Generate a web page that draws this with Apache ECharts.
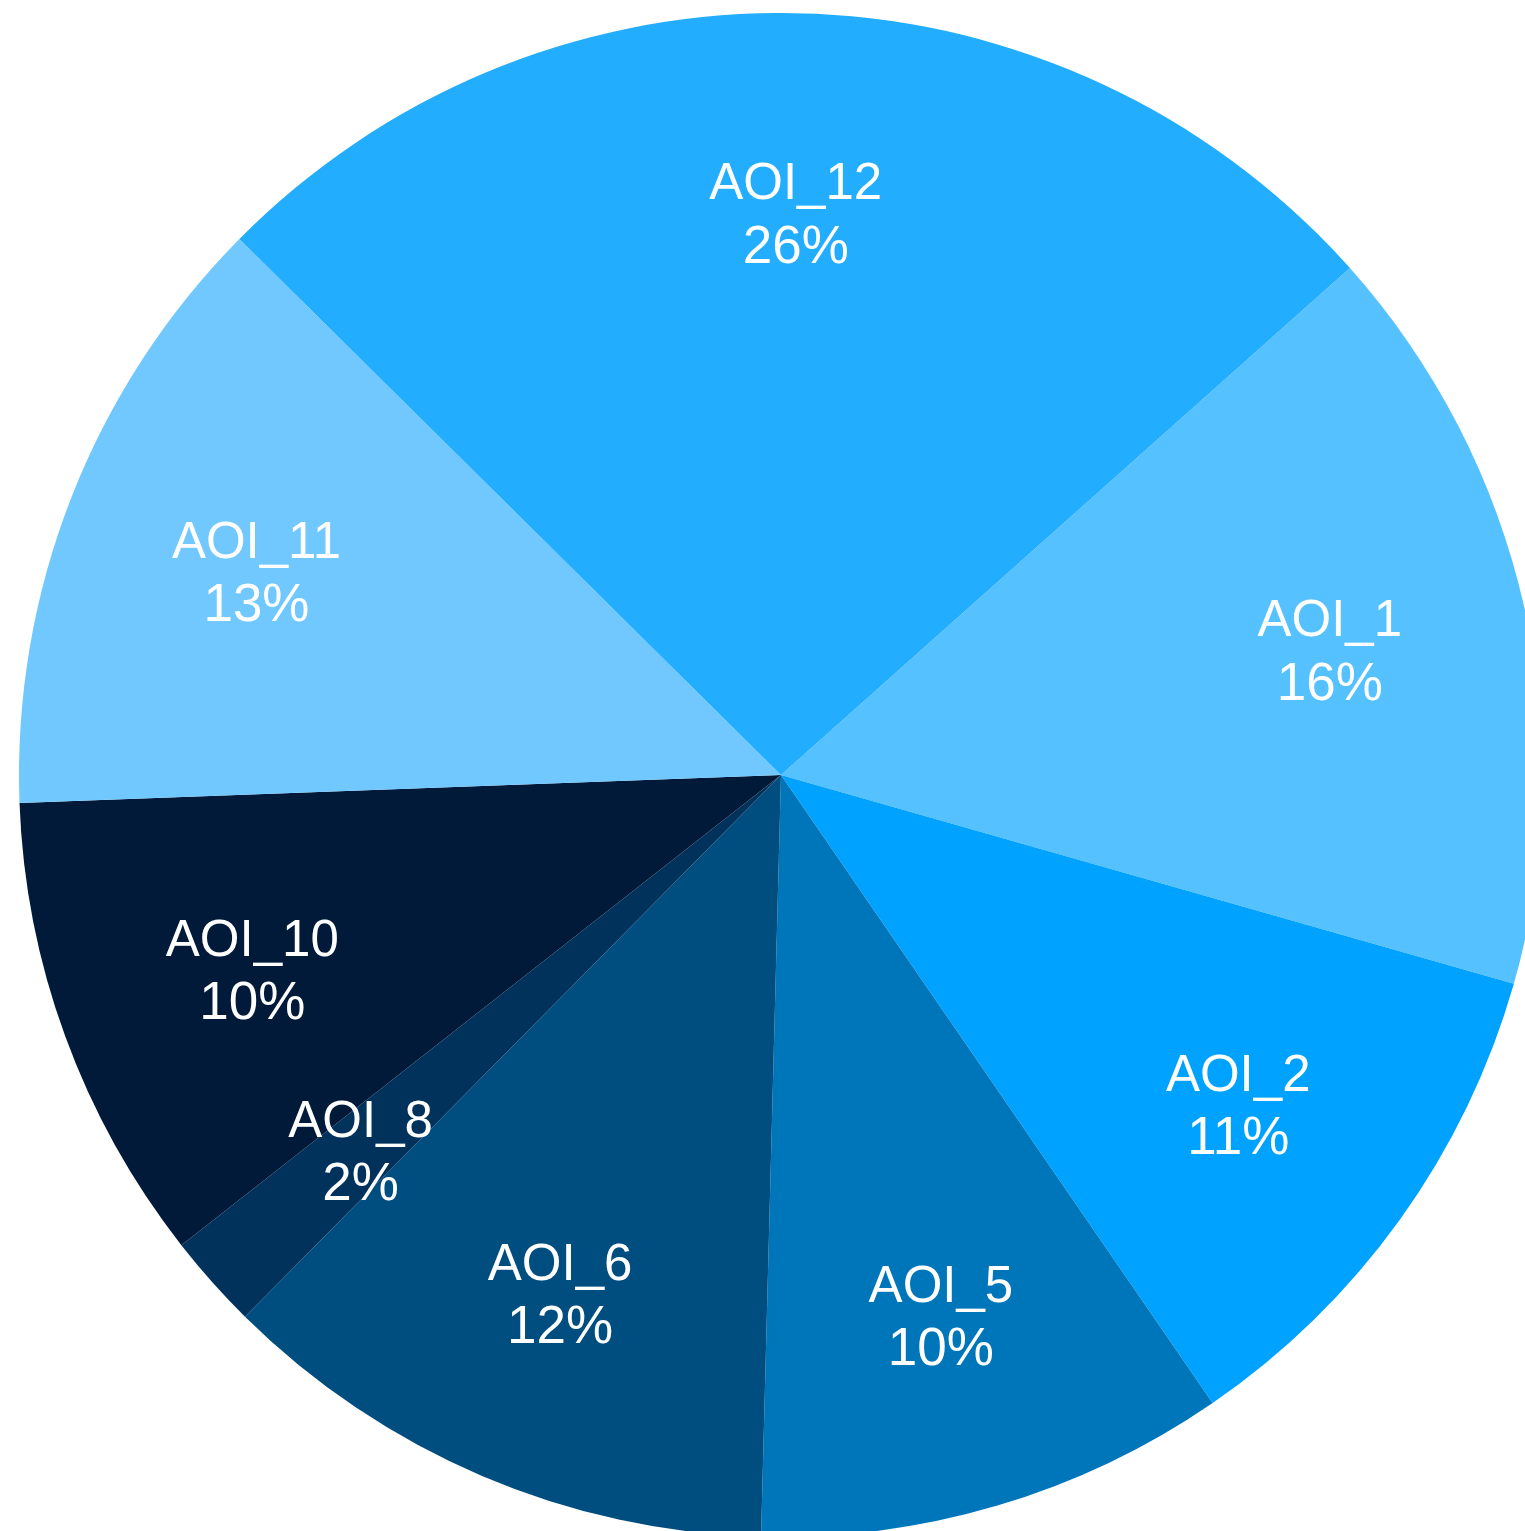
<!DOCTYPE html>
<html>
<head>
<meta charset="utf-8">
<script src="https://cdn.jsdelivr.net/npm/echarts@6/dist/echarts.min.js"></script>
<style>
html,body{margin:0;padding:0;background:#fff;}
#chart{width:1525px;height:1531px;}
</style>
</head>
<body>
<div id="chart"></div>
<script>
const categories = ['AOI_1', 'AOI_2', 'AOI_5', 'AOI_6', 'AOI_8', 'AOI_10', 'AOI_11', 'AOI_12'];
const values = [16, 11, 10, 12, 2, 10, 13, 26];
const colors = ['#56C1FF', '#00A2FF', '#0076BA', '#004D80', '#00325C', '#011A3A', '#70C8FF', '#22ADFE'];

const data = categories.map((c, i) => ({ name: c, value: values[i], itemStyle: { color: colors[i] } }));
const labelData = categories.map((c, i) => ({ name: c, value: values[i] }));

const chart = echarts.init(document.getElementById('chart'));
chart.setOption({
  animation: false,
  series: [
    {
      type: 'pie',
      center: [781, 775],
      radius: [0, 762],
      startAngle: 41.7,
      clockwise: true,
      avoidLabelOverlap: false,
      label: { show: false },
      labelLine: { show: false },
      itemStyle: { borderWidth: 0 },
      emphasis: { disabled: true },
      data: data
    },
    {
      type: 'pie',
      silent: true,
      center: [781, 775],
      radius: [358, 762],
      startAngle: 41.7,
      clockwise: true,
      avoidLabelOverlap: false,
      itemStyle: { color: 'rgba(0,0,0,0)', borderWidth: 0 },
      label: {
        show: true,
        position: 'inside',
        formatter: p => '{n|' + p.name + '}\n{p|' + p.value + '%}',
        color: '#ffffff',
        fontFamily: '"Liberation Sans", Arial, Helvetica, sans-serif',
        fontSize: 51,
        lineHeight: 63,
        padding: [9, 0, 0, 0],
        align: 'center',
        rich: {
          n: { fontSize: 51, lineHeight: 63, color: '#ffffff', fontFamily: '"Liberation Sans", Arial, Helvetica, sans-serif' },
          p: { fontSize: 53, lineHeight: 63, color: '#ffffff', fontFamily: '"Liberation Sans", Arial, Helvetica, sans-serif' }
        }
      },
      labelLine: { show: false },
      emphasis: { disabled: true },
      data: labelData
    }
  ]
});
</script>
</body>
</html>
